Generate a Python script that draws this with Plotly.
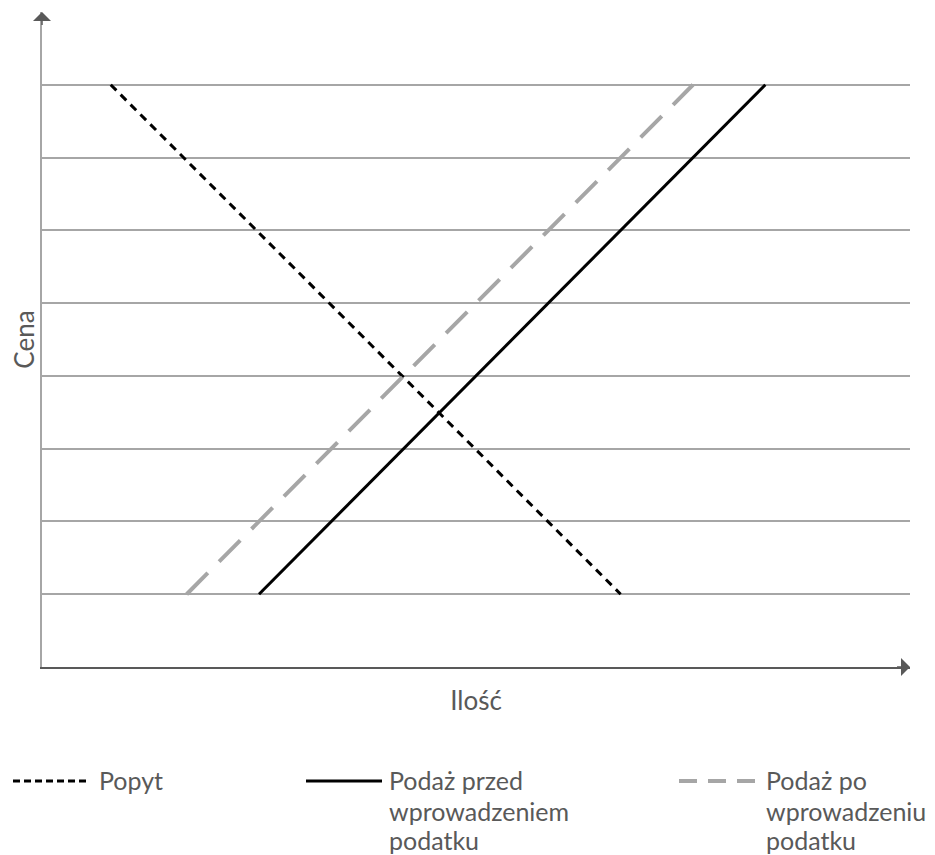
import plotly.graph_objects as go

# ---- data ----
ilosc_popyt = [0.95, 8.0]
cena_popyt = [8, 1]
ilosc_podaz_przed = [3.0, 10.0]
cena_podaz_przed = [1, 8]
ilosc_podaz_po = [2.0, 9.0]
cena_podaz_po = [1, 8]
grid_vals = [1, 2, 3, 4, 5, 6, 7, 8]

nazwy = ["Popyt", "Podaż przed<br>wprowadzeniem<br>podatku", "Podaż po<br>wprowadzeniu<br>podatku"]

FONT = "Lato, 'Open Sans', sans-serif"
TXT = "#595959"
OFF = 8  # page body margin
W, H = 935 - OFF, 855 - OFF
L, T = 42 - OFF, 12 - OFF
R = W - (910 - OFF)
B = H - (667 - OFF)
PW, PH = W - L - R, H - T - B

def px2x(px):
    return (px - OFF - L) / PW

def px2y(py):
    return (H - B - (py - OFF)) / PH

fig = go.Figure()
fig.add_trace(go.Scatter(x=ilosc_popyt, y=cena_popyt, mode="lines", name="Popyt",
                         line=dict(color="black", width=3, dash="8px,6px"), showlegend=False))
fig.add_trace(go.Scatter(x=ilosc_podaz_przed, y=cena_podaz_przed, mode="lines", name="Podaż przed",
                         line=dict(color="black", width=3), showlegend=False))
fig.add_trace(go.Scatter(x=ilosc_podaz_po, y=cena_podaz_po, mode="lines", name="Podaż po",
                         line=dict(color="#a6a6a6", width=4, dash="30px,16px"), showlegend=False))

shapes = []
annotations = []

# axis arrows
annotations.append(dict(x=12, y=0, ax=11.8, ay=0, xref="x", yref="y", axref="x", ayref="y",
                        showarrow=True, arrowhead=1, arrowsize=2, arrowwidth=1.5,
                        arrowcolor=TXT, text=""))
annotations.append(dict(x=0, y=9, ax=0, ay=8.8, xref="x", yref="y", axref="x", ayref="y",
                        showarrow=True, arrowhead=1, arrowsize=2, arrowwidth=1.5,
                        arrowcolor=TXT, text=""))

# custom legend
leg_y = 781
samples = [
    (13, 88, dict(color="black", width=3, dash="7px,4px")),
    (306, 382, dict(color="black", width=3)),
    (679, 755, dict(color="#a6a6a6", width=4, dash="18px,11px")),
]
text_x = [97, 387, 764]
text_y = [780, 811, 840]
for (x0, x1, ln), tx, nm in zip(samples, text_x, nazwy):
    shapes.append(dict(type="line", xref="paper", yref="paper",
                       x0=px2x(x0), x1=px2x(x1), y0=px2y(leg_y), y1=px2y(leg_y), line=ln))
    for i, part in enumerate(nm.split("<br>")):
        annotations.append(dict(x=px2x(tx), y=px2y(text_y[i]), xref="paper", yref="paper",
                                xanchor="left", yanchor="middle", showarrow=False, text=part,
                                font=dict(family=FONT, size=25, color=TXT)))

fig.update_layout(
    width=W, height=H,
    margin=dict(l=L, r=R, t=T, b=B),
    paper_bgcolor="white", plot_bgcolor="white",
    font=dict(family=FONT, size=26, color=TXT),
    showlegend=False,
    shapes=shapes,
    annotations=annotations,
    xaxis=dict(range=[0, 12], showgrid=False, zeroline=False, showticklabels=False, ticks="",
               showline=True, linecolor=TXT, linewidth=1.5,
               title=dict(text="Ilość", font=dict(family=FONT, size=26, color=TXT), standoff=24)),
    yaxis=dict(range=[0, 9], tickvals=grid_vals, showgrid=True, gridcolor="#a6a6a6", gridwidth=1.5,
               zeroline=False, showticklabels=False, ticks="",
               showline=True, linecolor="#a6a6a6", linewidth=1.5,
               title=dict(text="Cena", font=dict(family=FONT, size=26, color=TXT), standoff=6)),
)

fig.write_html("out.html")
